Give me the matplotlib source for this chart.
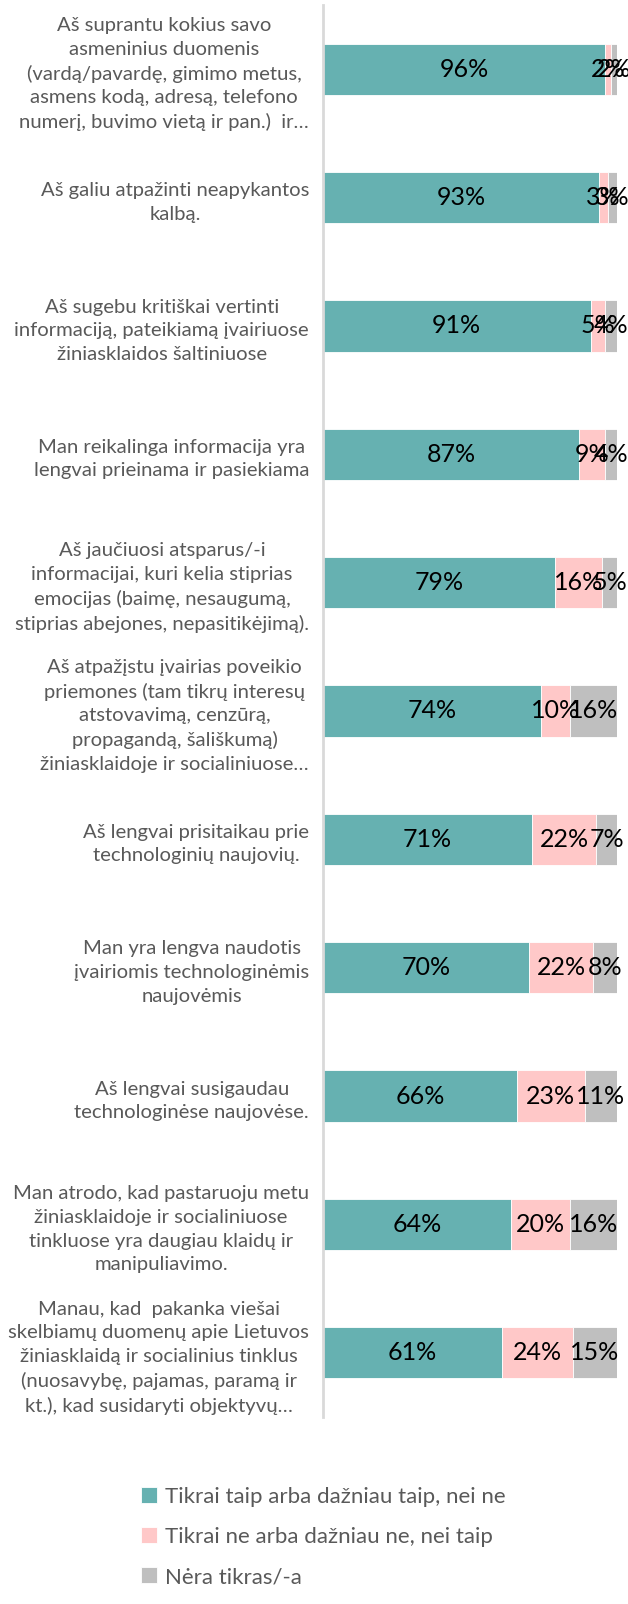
import numpy as np
import matplotlib
matplotlib.use("Agg")
import matplotlib.pyplot as plt

plt.rcParams['font.family'] = ['Lato', 'DejaVu Sans']

# ===== data =====
categories = [
    "Aš suprantu kokius savo\nasmeninius duomenis\n(vardą/pavardę, gimimo metus,\nasmens kodą, adresą, telefono\nnumerį, buvimo vietą ir pan.)  ir…",
    "Aš galiu atpažinti neapykantos\nkalbą.",
    "Aš sugebu kritiškai vertinti\ninformaciją, pateikiamą įvairiuose\nžiniasklaidos šaltiniuose",
    "Man reikalinga informacija yra\nlengvai prieinama ir pasiekiama",
    "Aš jaučiuosi atsparus/-i\ninformacijai, kuri kelia stiprias\nemocijas (baimę, nesaugumą,\nstiprias abejones, nepasitikėjimą).",
    "Aš atpažįstu įvairias poveikio\npriemones (tam tikrų interesų\natstovavimą, cenzūrą,\npropagandą, šališkumą)\nžiniasklaidoje ir socialiniuose…",
    "Aš lengvai prisitaikau prie\ntechnologinių naujovių.",
    "Man yra lengva naudotis\nįvairiomis technologinėmis\nnaujovėmis",
    "Aš lengvai susigaudau\ntechnologinėse naujovėse.",
    "Man atrodo, kad pastaruoju metu\nžiniasklaidoje ir socialiniuose\ntinkluose yra daugiau klaidų ir\nmanipuliavimo.",
    "Manau, kad  pakanka viešai\nskelbiamų duomenų apie Lietuvos\nžiniasklaidą ir socialinius tinklus\n(nuosavybę, pajamas, paramą ir\nkt.), kad susidaryti objektyvų…",
]
yes_vals = [96, 93, 91, 87, 79, 74, 71, 70, 66, 64, 61]
no_vals = [2, 3, 5, 9, 16, 10, 22, 22, 23, 20, 24]
unsure_vals = [2, 3, 4, 4, 5, 16, 7, 8, 11, 16, 15]

series_names = ["Tikrai taip arba dažniau taip, nei ne",
                "Tikrai ne arba dažniau ne, nei taip",
                "Nėra tikras/-a"]
colors = ["#66B1B1", "#FFC8C8", "#BFBFBF"]

# ===== plot =====
fig = plt.figure(figsize=(6.28, 16.04), dpi=100)
ax = fig.add_axes([323 / 628, 1 - 1417 / 1604, 294 / 628, 1412 / 1604])

data = np.array([yes_vals, no_vals, unsure_vals], dtype=float)
shares = data / data.sum(axis=0) * 100   # 100% stacked
y = np.arange(len(categories))
left = np.zeros(len(categories))

for i in range(3):
    ax.barh(y, shares[i], left=left, height=0.4, color=colors[i],
            edgecolor="white", linewidth=0.6, label=series_names[i])
    for yy, l, w, v in zip(y, left, shares[i], data[i]):
        ax.text(l + w / 2, yy, f"{v:.0f}%", ha="center", va="center",
                fontsize=18, color="#000000")
    left += shares[i]

ax.set_xlim(0, 100)
ax.set_ylim(len(categories) - 0.5, -0.5)
ax.set_yticks(y)
ax.set_yticklabels(categories, fontsize=14.6, color="#595959",
                   multialignment="center", linespacing=1.47)
ax.tick_params(axis="y", length=0, pad=10)
ax.set_xticks([])
for s in ["top", "right", "bottom"]:
    ax.spines[s].set_visible(False)
ax.spines["left"].set_color("#D9D9D9")
ax.spines["left"].set_linewidth(2)

handles, labels = ax.get_legend_handles_labels()
fig.legend(handles, labels, loc="upper left", bbox_to_anchor=(121 / 628, 1 - 1467 / 1604),
           frameon=False, fontsize=16, labelcolor="#595959",
           handlelength=0.7, handleheight=0.7, handletextpad=0.4,
           labelspacing=0.9)

fig.savefig("out.png", dpi=100)
